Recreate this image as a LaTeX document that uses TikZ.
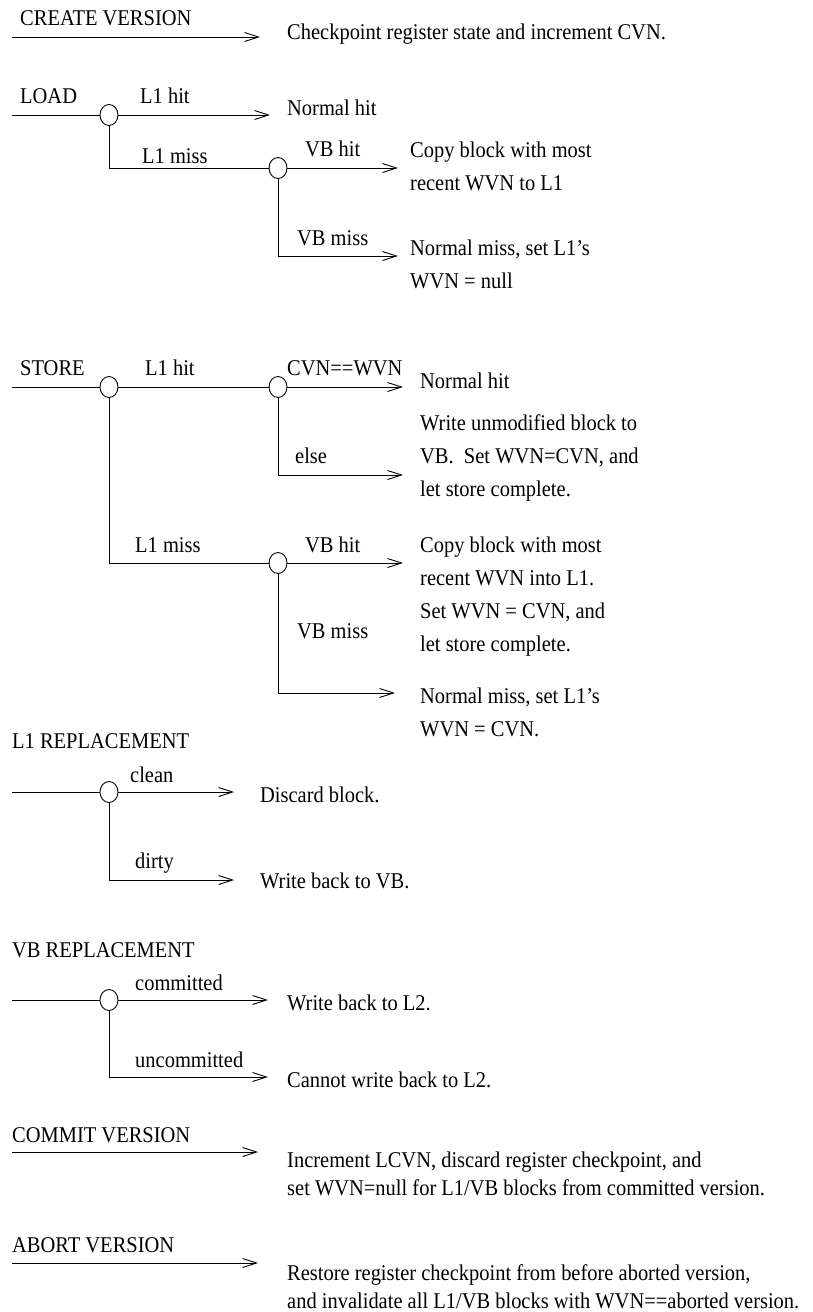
\documentclass[tikz,border=0pt]{standalone}
\usepackage{fontspec}
\setmainfont{Liberation Serif}[FakeStretch=0.91]
\usetikzlibrary{arrows.meta,shapes.geometric}
\begin{document}
\begin{tikzpicture}[x=1pt,y=-1pt,
  txt/.style={anchor=base west,inner sep=0pt,font=\fontsize{22.5}{33}\selectfont,align=left},
  txtb/.style={anchor=base west,inner sep=0pt,font=\fontsize{22.5}{28}\selectfont,align=left},
  jn/.style={draw,ellipse,minimum width=18pt,minimum height=21pt,inner sep=0pt,line width=0.9pt,fill=white},
  wire/.style={line width=0.9pt},
  arr/.style={wire,-{Straight Barb[length=14pt,width=9pt]}}
]
\useasboundingbox (0,0) rectangle (812,1312);

% CREATE VERSION
\coordinate (cs) at (12,37);
\coordinate (ce) at (260,37);
\node[txt] (cl) at (20,25) {CREATE VERSION};
\node[txt] (ct) at (287,39) {Checkpoint register state and increment CVN.};
\draw[arr] (cs) -- (ce);

% LOAD
\coordinate (ls) at (12,115);
\node[jn] (lj1) at (109,115) {};
\coordinate (le1) at (270,115);
\node[jn] (lj2) at (278,168) {};
\coordinate (le2) at (398,168);
\coordinate (le3) at (398,256);
\draw[wire] (ls) -- (lj1);
\draw[arr] (lj1) -- (le1);
\draw[wire] (lj1) |- (lj2);
\draw[arr] (lj2) -- (le2);
\draw[arr] (lj2) |- (le3);
\node[txt] (ll) at (20,103) {LOAD};
\node[txt] (lh) at (140,103) {L1 hit};
\node[txt] (lnh) at (287,115) {Normal hit};
\node[txt] (lm) at (142,163) {L1 miss};
\node[txt] (lvh) at (305,156) {VB hit};
\node[txt] (lvm) at (297,245) {VB miss};
\node[txt] (lcp) at (410,190) {Copy block with most\\recent WVN to L1};
\node[txt] (lnm) at (410,288) {Normal miss, set L1’s\\WVN = null};

% STORE
\coordinate (ss) at (12,387);
\node[jn] (sj1) at (109,387) {};
\node[jn] (sj2) at (278,387) {};
\coordinate (se1) at (403,387);
\coordinate (se2) at (403,475);
\node[jn] (sj3) at (278,563) {};
\coordinate (se3) at (403,563);
\coordinate (se4) at (395,693);
\draw[wire] (ss) -- (sj1);
\draw[wire] (sj1) -- (sj2);
\draw[arr] (sj2) -- (se1);
\draw[arr] (sj2) |- (se2);
\draw[wire] (sj1) |- (sj3);
\draw[arr] (sj3) -- (se3);
\draw[arr] (sj3) |- (se4);
\node[txt] (sl) at (20,375) {STORE};
\node[txt] (sh) at (145,375) {L1 hit};
\node[txt] (seq) at (287,375) {CVN==WVN};
\node[txt] (snh) at (420,388) {Normal hit};
\node[txt] (sel) at (295,463) {else};
\node[txt] (swu) at (420,496) {Write unmodified block to\\VB.\ \ Set WVN=CVN, and\\let store complete.};
\node[txt] (sm) at (135,552) {L1 miss};
\node[txt] (svh) at (305,552) {VB hit};
\node[txt] (svm) at (297,638) {VB miss};
\node[txt] (scp) at (420,651) {Copy block with most\\recent WVN into L1.\\Set WVN = CVN, and\\let store complete.};
\node[txt] (snm) at (420,736) {Normal miss, set L1’s\\WVN = CVN.};

% L1 REPLACEMENT
\node[txt] (rl) at (12,748) {L1 REPLACEMENT};
\coordinate (rs) at (12,792);
\node[jn] (rj) at (109,792) {};
\coordinate (re1) at (234,792);
\coordinate (re2) at (234,880);
\draw[wire] (rs) -- (rj);
\draw[arr] (rj) -- (re1);
\draw[arr] (rj) |- (re2);
\node[txt] (rc) at (130,782) {clean};
\node[txt] (rd) at (135,868) {dirty};
\node[txt] (rdb) at (260,802) {Discard block.};
\node[txt] (rwb) at (260,888) {Write back to VB.};

% VB REPLACEMENT
\node[txt] (vl) at (12,957) {VB REPLACEMENT};
\coordinate (vs) at (12,1000);
\node[jn] (vj) at (109,1000) {};
\coordinate (ve1) at (268,1000);
\coordinate (ve2) at (268,1077);
\draw[wire] (vs) -- (vj);
\draw[arr] (vj) -- (ve1);
\draw[arr] (vj) |- (ve2);
\node[txt] (vc) at (135,990) {committed};
\node[txt] (vu) at (135,1067) {uncommitted};
\node[txt] (vwb) at (287,1010) {Write back to L2.};
\node[txt] (vcw) at (287,1087) {Cannot write back to L2.};

% COMMIT VERSION
\node[txt] (ml) at (12,1142) {COMMIT VERSION};
\coordinate (ms) at (12,1152);
\coordinate (me) at (258,1152);
\draw[arr] (ms) -- (me);
\node[txtb] (mt) at (287,1195) {Increment LCVN, discard register checkpoint, and\\set WVN=null for L1/VB blocks from committed version.};

% ABORT VERSION
\node[txt] (al) at (12,1252) {ABORT VERSION};
\coordinate (as) at (12,1263);
\coordinate (ae) at (258,1263);
\draw[arr] (as) -- (ae);
\node[txtb] (at) at (287,1308) {Restore register checkpoint from before aborted version,\\and invalidate all L1/VB blocks with WVN==aborted version.};
\end{tikzpicture}
\end{document}
